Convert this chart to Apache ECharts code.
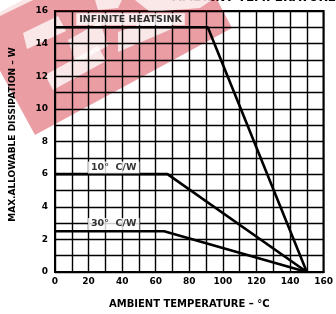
<!DOCTYPE html>
<html>
<head>
<meta charset="utf-8">
<script src="https://cdn.jsdelivr.net/npm/echarts@6/dist/echarts.min.js"></script>
<style>
  html, body { margin: 0; padding: 0; background: #fff; }
  #main { width: 336px; height: 314px; }
</style>
</head>
<body>
<div id="main"></div>
<script>
var chartDom = document.getElementById('main');
var myChart = echarts.init(chartDom);
var option;

// curves: [temperature °C, watts]
const infiniteHeatsink = [[0, 15], [91, 15], [150, 0]];
const tenCW = [[0, 6], [67, 6], [150, 0]];
const thirtyCW = [[0, 2.5], [65, 2.5], [150, 0]];

// curve labels: [text, x, y]
const curveLabels = [
  ['INFINITE HEATSINK', 45, 15.5],
  ['10°  C/W', 35, 6.4],
  ['30°  C/W', 35, 2.95]
];

const font = 'DejaVu Sans';

const lineStyle = { color: '#000', width: 2.6 };

const labelData = curveLabels.map(function (l) {
  return {
    value: [l[1], l[2]],
    label: { formatter: l[0] }
  };
});

function cut(points) {
  return { type: 'polygon', shape: { points: points }, style: { fill: 'rgba(255,255,255,0.75)' } };
}

option = {
  animation: false,
  backgroundColor: '#fff',
  grid: {
    left: 54,
    right: 5,
    top: 11,
    bottom: 42,
    show: true,
    borderColor: '#000',
    borderWidth: 2
  },
  xAxis: {
    type: 'value',
    min: 0,
    max: 160,
    interval: 10,
    name: 'AMBIENT TEMPERATURE – °C',
    nameLocation: 'middle',
    nameGap: 27,
    nameTextStyle: { fontFamily: font, fontWeight: 'bold', fontSize: 10, color: '#000' },
    axisLine: { lineStyle: { color: '#000', width: 2 } },
    axisTick: { show: false },
    axisLabel: {
      fontFamily: font,
      fontWeight: 'bold',
      fontSize: 9,
      color: '#000',
      margin: 5,
      formatter: function (v) { return v % 20 === 0 ? v : ''; }
    },
    splitLine: { lineStyle: { color: '#000', width: 1.4 } }
  },
  yAxis: {
    type: 'value',
    min: 0,
    max: 16,
    interval: 1,
    name: 'MAX.ALLOWABLE DISSIPATION – W',
    nameLocation: 'middle',
    nameGap: 38,
    nameTextStyle: { fontFamily: font, fontWeight: 'bold', fontSize: 9, color: '#000', padding: [0, 0, 0, 14] },
    axisLine: { lineStyle: { color: '#000', width: 2 } },
    axisTick: { show: false },
    axisLabel: {
      fontFamily: font,
      fontWeight: 'bold',
      fontSize: 9,
      color: '#000',
      margin: 7,
      formatter: function (v) { return v % 2 === 0 ? v : ''; }
    },
    splitLine: { lineStyle: { color: '#000', width: 1.4 } }
  },
  graphic: [
    {
      type: 'text',
      right: 0,
      top: -8,
      style: {
        text: '– AMBIENT TEMPERATURE',
        font: 'bold 12px DejaVu Sans',
        fill: '#000'
      }
    },
    {
      // red watermark stamp
      type: 'group',
      z: 100,
      children: [
        {
          type: 'polygon',
          shape: { points: [[35, 135], [232, 28], [175, -80], [-25, 25]] },
          style: { fill: 'rgba(205,25,35,0.42)' }
        },
        cut([[0, 0], [33, 0], [0, 16]]),
        cut([[23, 33], [58, 16], [66, 31], [27, 49]]),
        cut([[45, 75], [98, 46], [106, 61], [53, 90]]),
        cut([[68, 40], [100, 22], [108, 46], [76, 63]]),
        cut([[118, 52], [118, 32], [168, 14], [174, 28]]),
        cut([[135, 0], [212, 0], [200, 8], [150, 12]]),
        cut([[95, 0], [122, 0], [118, 8], [98, 10]])
      ]
    }
  ],
  series: [
    {
      name: 'Infinite heatsink',
      type: 'line',
      data: infiniteHeatsink,
      symbol: 'none',
      lineStyle: lineStyle,
      z: 3
    },
    {
      name: '10° C/W',
      type: 'line',
      data: tenCW,
      symbol: 'none',
      lineStyle: lineStyle,
      z: 3
    },
    {
      name: '30° C/W',
      type: 'line',
      data: thirtyCW,
      symbol: 'none',
      lineStyle: lineStyle,
      z: 3
    },
    {
      name: 'labels',
      type: 'scatter',
      data: labelData,
      symbolSize: 0,
      z: 4,
      label: {
        show: true,
        position: 'inside',
        fontFamily: font,
        fontWeight: 'bold',
        fontSize: 9.5,
        color: '#000',
        backgroundColor: '#fff',
        padding: [1, 3]
      }
    }
  ]
};

option && myChart.setOption(option);
</script>
</body>
</html>
